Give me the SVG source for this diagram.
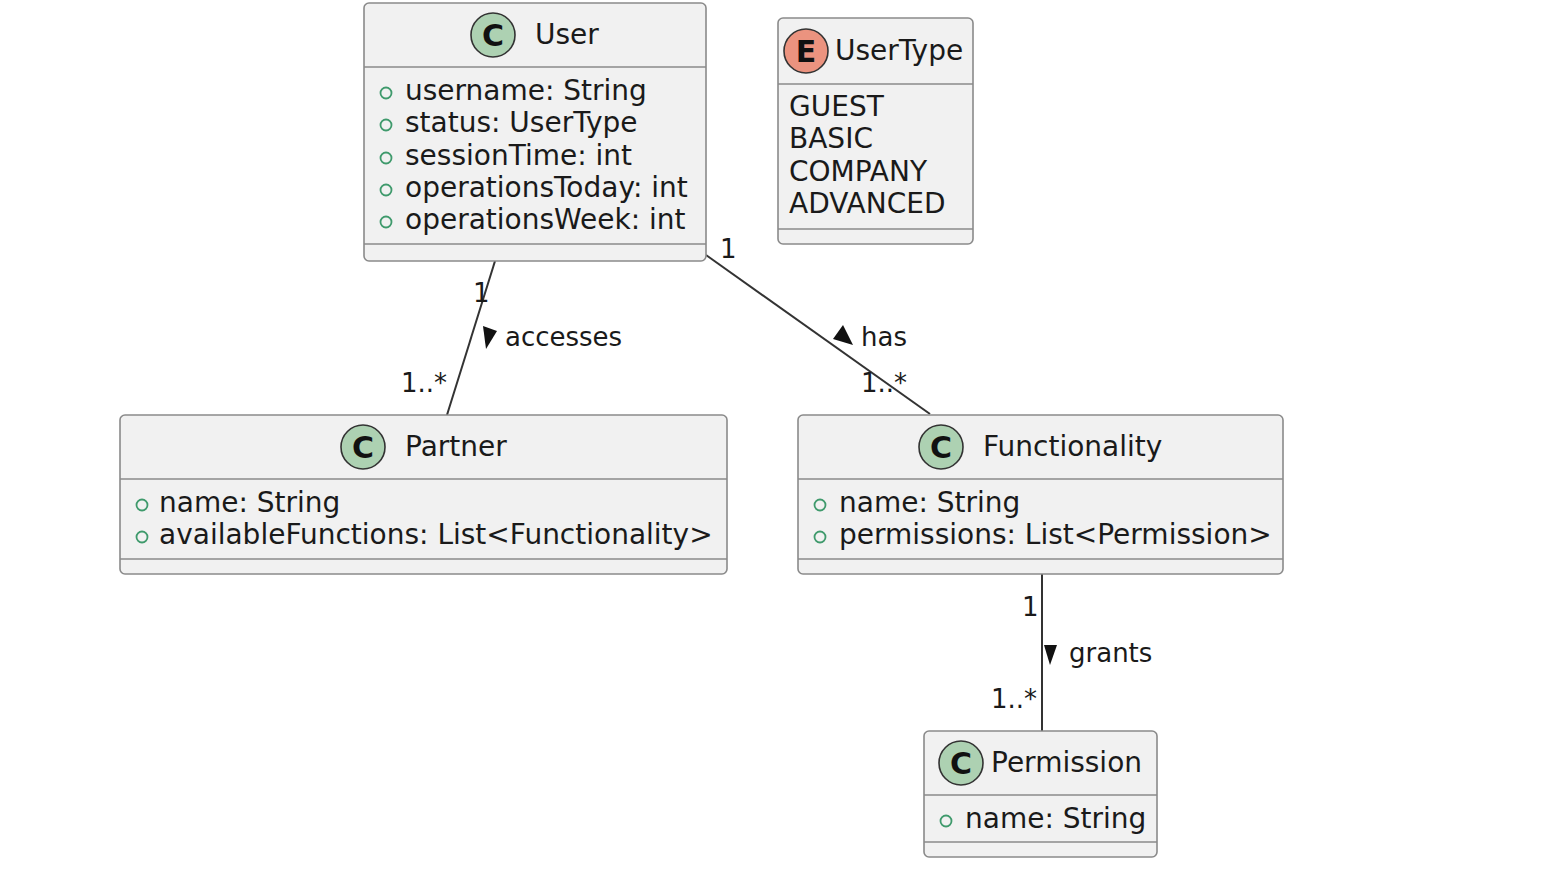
<svg xmlns="http://www.w3.org/2000/svg" width="1562" height="896" viewBox="0 0 1562 896">
<style>
.box{fill:#F1F1F1;stroke:#8a8a8a;stroke-width:1.6}
.div{stroke:#8a8a8a;stroke-width:1.6}
.t{font-family:"DejaVu Sans",sans-serif;font-size:28px;fill:#1a1a1a}
.lbl{font-family:"DejaVu Sans",sans-serif;font-size:26px;fill:#1a1a1a}
.ci{fill:#ADD1B2;stroke:#333;stroke-width:1.6}
.ce{fill:#EB937F;stroke:#333;stroke-width:1.6}
.cl{font-family:"DejaVu Sans",sans-serif;font-size:30px;font-weight:bold;fill:#111;text-anchor:middle}
.vis{fill:none;stroke:#3f9a6c;stroke-width:1.8}
.edge{stroke:#333;stroke-width:2;fill:none}
.tri{fill:#111}
</style>
<g id="connectors">
<line class="edge" x1="495" y1="261" x2="447" y2="415"/>
<line class="edge" x1="706" y1="255" x2="930" y2="414"/>
<line class="edge" x1="1042" y1="574" x2="1042" y2="731"/>
<text class="lbl" x="473" y="302">1</text>
<text class="lbl" x="401" y="392">1..*</text>
<polygon class="tri" points="483,326 497,331 486,349"/>
<text class="lbl" x="505" y="346">accesses</text>
<text class="lbl" x="720" y="258">1</text>
<text class="lbl" x="861" y="392">1..*</text>
<polygon class="tri" points="833,339 843,325 853,345"/>
<text class="lbl" x="861" y="346">has</text>
<text class="lbl" x="1022" y="616">1</text>
<text class="lbl" x="991" y="708">1..*</text>
<polygon class="tri" points="1044,645 1057,645 1050,665"/>
<text class="lbl" x="1069" y="662">grants</text>
</g>
<g id="User">
<rect class="box" x="364" y="3" width="342" height="258" rx="5"/>
<line class="div" x1="364" y1="67" x2="706" y2="67"/>
<line class="div" x1="364" y1="244" x2="706" y2="244"/>
<circle class="ci" cx="493" cy="35" r="22"/>
<text class="cl" x="493" y="46">C</text>
<text class="t" x="535" y="44">User</text>
<circle class="vis" cx="386" cy="93" r="5.5"/>
<text class="t" x="405" y="100">username: String</text>
<circle class="vis" cx="386" cy="125" r="5.5"/>
<text class="t" x="405" y="132">status: UserType</text>
<circle class="vis" cx="386" cy="158" r="5.5"/>
<text class="t" x="405" y="165">sessionTime: int</text>
<circle class="vis" cx="386" cy="190" r="5.5"/>
<text class="t" x="405" y="197">operationsToday: int</text>
<circle class="vis" cx="386" cy="222" r="5.5"/>
<text class="t" x="405" y="229">operationsWeek: int</text>
</g>
<g id="UserType">
<rect class="box" x="778" y="18" width="195" height="226" rx="5"/>
<line class="div" x1="778" y1="84" x2="973" y2="84"/>
<line class="div" x1="778" y1="229" x2="973" y2="229"/>
<circle class="ce" cx="806" cy="51" r="22"/>
<text class="cl" x="806" y="62">E</text>
<text class="t" x="835" y="60">UserType</text>
<text class="t" x="789" y="116">GUEST</text>
<text class="t" x="789" y="148">BASIC</text>
<text class="t" x="789" y="181">COMPANY</text>
<text class="t" x="789" y="213">ADVANCED</text>
</g>
<g id="Partner">
<rect class="box" x="120" y="415" width="607" height="159" rx="5"/>
<line class="div" x1="120" y1="479" x2="727" y2="479"/>
<line class="div" x1="120" y1="559" x2="727" y2="559"/>
<circle class="ci" cx="363" cy="447" r="22"/>
<text class="cl" x="363" y="458">C</text>
<text class="t" x="405" y="456">Partner</text>
<circle class="vis" cx="142" cy="505" r="5.5"/>
<text class="t" x="159" y="512">name: String</text>
<circle class="vis" cx="142" cy="537" r="5.5"/>
<text class="t" x="159" y="544">availableFunctions: List&lt;Functionality&gt;</text>
</g>
<g id="Functionality">
<rect class="box" x="798" y="415" width="485" height="159" rx="5"/>
<line class="div" x1="798" y1="479" x2="1283" y2="479"/>
<line class="div" x1="798" y1="559" x2="1283" y2="559"/>
<circle class="ci" cx="941" cy="447" r="22"/>
<text class="cl" x="941" y="458">C</text>
<text class="t" x="983" y="456">Functionality</text>
<circle class="vis" cx="820" cy="505" r="5.5"/>
<text class="t" x="839" y="512">name: String</text>
<circle class="vis" cx="820" cy="537" r="5.5"/>
<text class="t" x="839" y="544">permissions: List&lt;Permission&gt;</text>
</g>
<g id="Permission">
<rect class="box" x="924" y="731" width="233" height="126" rx="5"/>
<line class="div" x1="924" y1="795" x2="1157" y2="795"/>
<line class="div" x1="924" y1="842" x2="1157" y2="842"/>
<circle class="ci" cx="961" cy="763" r="22"/>
<text class="cl" x="961" y="774">C</text>
<text class="t" x="991" y="772">Permission</text>
<circle class="vis" cx="946" cy="821" r="5.5"/>
<text class="t" x="965" y="828">name: String</text>
</g>
</svg>
